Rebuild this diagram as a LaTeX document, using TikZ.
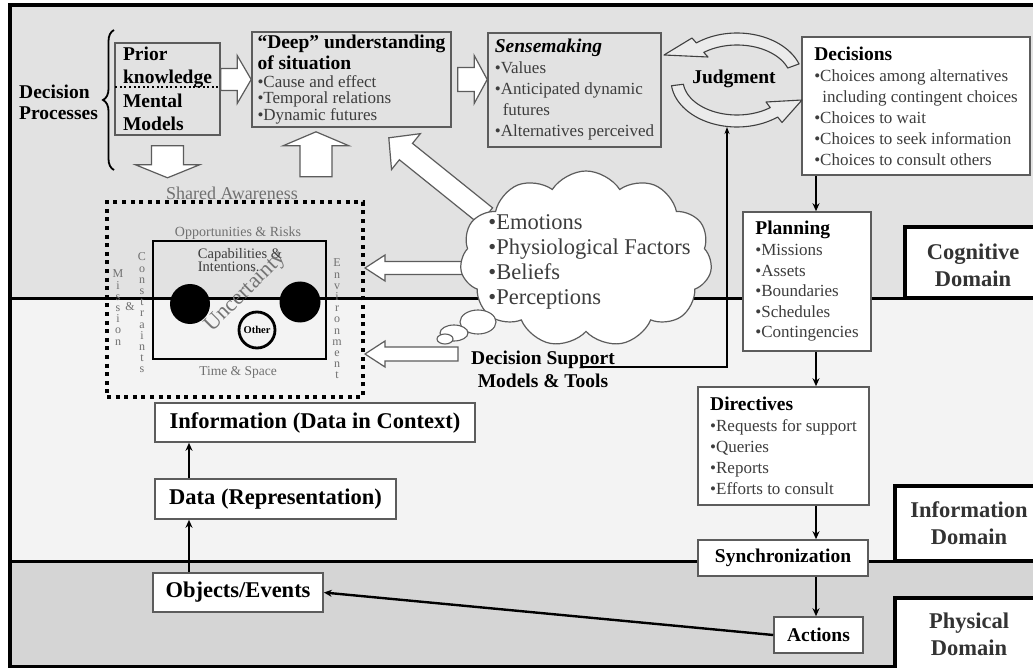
\documentclass[tikz,border=0pt]{standalone}
\usepackage{fontspec}
\setmainfont{Liberation Serif}
\usetikzlibrary{shapes.symbols,arrows.meta,calc,decorations.pathreplacing}

\definecolor{cogbg}{HTML}{E2E2E2}
\definecolor{infobg}{HTML}{F3F3F3}
\definecolor{physbg}{HTML}{D5D5D5}
\definecolor{boxline}{HTML}{5C5C5C}
\definecolor{bodytext}{HTML}{3D3D3D}
\definecolor{softtext}{HTML}{707070}

\newcommand\fs[2]{\fontsize{#1}{#2}\selectfont}
\newcommand\hd[1]{{\color{black}\bfseries\fs{19.5}{20}#1}}
\newcommand\bl{\textbullet}
\newcommand\ind{\hspace*{8pt}}

% hollow block arrow: #1 tail, #2 tip, #3 shaft half width, #4 head half width, #5 head length
\newcommand\blockarrow[5]{%
  \coordinate (bahead) at ($(#2)!#5!(#1)$);
  \path[blockarr]
    ($(#1)!#3!90:(#2)$) -- ($(bahead)!#3!90:(#2)$) -- ($(bahead)!#4!90:(#2)$)
    -- (#2) -- ($(bahead)!#4!-90:(#2)$) -- ($(bahead)!#3!-90:(#2)$)
    -- ($(#1)!#3!-90:(#2)$) -- cycle;}

\begin{document}
\begin{tikzpicture}[x=1pt,y=-1pt,
  box/.style={draw=boxline, line width=1.6pt, inner sep=0pt, align=left},
  wbox/.style={box, fill=white},
  conn/.style={line width=2.4pt, -{Stealth[length=8pt,width=7pt]}},
  fineconn/.style={line width=1.2pt, -{Stealth[length=7pt,width=5pt]}},
  blockarr/.style={draw=boxline, fill=white, line width=1.2pt, line join=miter},
  domline/.style={line width=3pt},
  domainbox/.style={draw=black, line width=4pt, fill=white},
  domlabel/.style={font=\bfseries\fs{22.5}{27}, text=black!80, align=center, inner sep=0pt},
  stack/.style={align=center, font=\fs{12}{11.2}, text=softtext, inner sep=0pt},
  soft/.style={text=softtext, inner sep=0pt},
  bubble/.style={draw=boxline, fill=white, line width=1.1pt},
  jarrow/.style={draw=black!75, fill=white!92!black, line width=1.1pt, line join=round},
]
\useasboundingbox (0,0) rectangle (1033,668);
\clip (0,0) rectangle (1033,668);

% domain bands and frame
\fill[white] (0,0) rectangle (1033,668);
\fill[cogbg] (10,5) rectangle (1040,298);
\fill[infobg] (10,298) rectangle (1040,561);
\fill[physbg] (10,561) rectangle (1040,670);
\draw[line width=4pt] (10,5) rectangle (1040,667);
\draw[domline] (10,298) -- (1040,298);
\draw[domline] (10,561) -- (1040,561);

% decision processes
\node[anchor=west, align=left, font=\bfseries\fs{19.5}{21}, inner sep=0pt] (dproc) at (19,102.5) {Decision\\Processes};
\draw[decorate, decoration={brace, amplitude=11pt}, line width=1.8pt] (114,170) -- (114,30);

\node[box, minimum width=105pt, minimum height=92pt, font=\bfseries\fs{19.5}{23.5}] (prior) at (167.5,89) {Prior\\knowledge\\Mental\\Models};
\draw[line width=2pt, dash pattern=on 2pt off 2.6pt] ($(prior.west)+(1,-2)$) -- ($(prior.east)+(-1,-2)$);

\node[box, minimum width=199pt, minimum height=95pt, font=\fs{17}{16.5}, text=bodytext] (deep) at (351.5,79.5)
  {\hd{``Deep'' understanding}\\[1.2pt]\hd{of situation}\\[1.5pt]\bl Cause and effect\\\bl Temporal relations\\\bl Dynamic futures};

\node[box, minimum width=173pt, minimum height=114pt, font=\fs{17}{21}, text=bodytext] (sense) at (574.5,90)
  {\hd{\itshape Sensemaking}\\\bl Values\\\bl Anticipated dynamic\\\ind futures\\\bl Alternatives perceived};

\node[wbox, minimum width=228pt, minimum height=138pt, font=\fs{17}{21}, text=bodytext] (decis) at (916,106)
  {\hd{Decisions}\\\bl Choices among alternatives\\\ind including contingent choices\\\bl Choices to wait\\\bl Choices to seek information\\\bl Choices to consult others};

% judgment cycle
\path[jarrow]
  plot[domain=-20:-128, samples=40] ({737+66*cos(\x)}, {80+47*sin(\x)})
  -- (692,38) -- (664,55) -- (708,57)
  -- plot[domain=-128:-20, samples=40] ({737+54*cos(\x)}, {80+35*sin(\x)}) -- cycle;
\path[jarrow]
  plot[domain=173:52, samples=40] ({737+66*cos(\x)}, {80+47*sin(\x)})
  -- (782,122.5) -- (802,100) -- (766,102)
  -- plot[domain=52:173, samples=40] ({737+54*cos(\x)}, {80+35*sin(\x)}) -- cycle;
\node[font=\bfseries\fs{19.5}{22}, inner sep=0pt] (judg) at (734,79) {Judgment};
\coordinate (jbot) at (727,127);

% shared awareness picture
\node[soft, font=\fs{18}{20}] (shared) at (232,193) {Shared Awareness};
\node[draw, line width=4pt, dash pattern=on 4pt off 4.6pt, minimum width=256pt, minimum height=195pt, inner sep=0pt] (aware) at (235,299.5) {};
\node[draw=black, line width=1.5pt, minimum width=173pt, minimum height=118pt, inner sep=0pt] (sit) at (239.5,300) {};
\node[soft, font=\fs{14}{16}] (opps) at (238,233) {Opportunities \& Risks};
\node[soft, font=\fs{13.5}{16}] (tsp) at (238,372) {Time \& Space};
\node[font=\fs{14.5}{13}, text=bodytext, align=left, inner sep=0pt] (capint) at (240,260.5) {Capabilities \&\\Intentions.};
\node[circle, fill=black, minimum size=40pt, inner sep=0pt] (own) at (190,304) {};
\node[circle, fill=black, minimum size=41pt, inner sep=0pt] (adv) at (300,302) {};
\node[circle, draw=black, line width=2.8pt, minimum size=36pt, inner sep=0pt, font=\bfseries\fs{10.5}{12}] (other) at (257,330) {Other};
\node[rotate=45, font=\fs{22}{24}, text=black!55, inner sep=0pt] (unc) at (246,292) {Uncertainty};
\node[stack] (mis) at (118,307.5) {M\\i\\s\\s\\i\\o\\n};
\node[stack] (amp) at (130,307) {\&};
\node[stack] (cons) at (142,313) {C\\o\\n\\s\\t\\r\\a\\i\\n\\t\\s};
\node[stack] (env) at (337,319) {E\\n\\v\\i\\r\\o\\n\\m\\e\\n\\t};

% block arrows
\coordinate (a1s) at (prior.east |- deep.west);
\blockarrow{a1s}{deep.west}{11pt}{24pt}{14pt}
\coordinate (a2s) at ($(deep.east)+(6,0)$);
\coordinate (a2e) at (sense.west |- deep.east);
\blockarrow{a2s}{a2e}{12pt}{24pt}{13pt}
\coordinate (a3s) at ($(prior.south)+(0,10)$);
\coordinate (a3e) at ($(prior.south)+(0,42)$);
\blockarrow{a3s}{a3e}{16pt}{32pt}{13pt}
\coordinate (a4s) at ($(deep.south)+(-35.5,49)$);
\coordinate (a4e) at ($(deep.south)+(-35.5,4)$);
\blockarrow{a4s}{a4e}{16pt}{33pt}{14pt}
\coordinate (a5s) at (486,216);
\coordinate (a5e) at ($(deep.south east)+(-63,10)$);
\blockarrow{a5s}{a5e}{10.5pt}{23pt}{22pt}
\coordinate (a6s) at (466,268);
\coordinate (a6e) at (aware.east |- a6s);
\blockarrow{a6s}{a6e}{6.5pt}{13pt}{20pt}
\coordinate (a7s) at (458,354);
\coordinate (a7e) at (aware.east |- a7s);
\blockarrow{a7s}{a7e}{7pt}{13pt}{20pt}

% influences cloud
\node[cloud, cloud puffs=11, cloud puff arc=115, aspect=1.45, draw=boxline, fill=white, line width=1.2pt, minimum width=252pt, minimum height=176pt, inner sep=0pt] (cloud) at (586,259) {};
\draw[bubble] (478,322) ellipse[x radius=18, y radius=12];
\draw[bubble] (454,333) ellipse[x radius=14, y radius=8];
\draw[bubble] (445,339) ellipse[x radius=8, y radius=5];
\node[font=\fs{22.5}{25}, text=bodytext, align=left, inner sep=0pt] (feel) at (589.5,261.5)
  {\bl Emotions\\\bl Physiological Factors\\\bl Beliefs\\\bl Perceptions};

% decision support
\coordinate (dsrun) at (583,367);
\draw[fineconn] (dsrun) -| (jbot);
\node[font=\bfseries\fs{19.5}{23}, align=center, inner sep=0pt] (dsup) at (543,369) {Decision Support\\Models \& Tools};

% command chain
\node[wbox, minimum width=128pt, minimum height=139pt, font=\fs{17}{20.6}, text=bodytext] (plan) at (807,281.5)
  {\hd{Planning}\\\bl Missions\\\bl Assets\\\bl Boundaries\\\bl Schedules\\\bl Contingencies};
\node[wbox, minimum width=171pt, minimum height=118pt, font=\fs{17}{21}, text=bodytext] (direct) at (783.5,446)
  {\hd{Directives}\\\bl Requests for support\\\bl Queries\\\bl Reports\\\bl Efforts to consult};
\node[wbox, minimum width=170pt, minimum height=36pt, font=\bfseries\fs{19.5}{22}, align=center] (sync) at (783,558) {Synchronization};
\node[wbox, minimum width=89pt, minimum height=36pt, font=\bfseries\fs{19.5}{22}, align=center] (actions) at (818.5,635) {Actions};

% information chain
\node[wbox, minimum width=170pt, minimum height=39pt, font=\bfseries\fs{22.5}{25}, align=center] (objects) at (238,592.5) {Objects/Events};
\node[wbox, minimum width=241pt, minimum height=40pt, font=\bfseries\fs{22.5}{25}, align=center] (data) at (275.5,499) {Data (Representation)};
\node[wbox, minimum width=320pt, minimum height=39pt, font=\bfseries\fs{22.5}{25}, align=center] (info) at (315,422.5) {Information (Data in Context)};

\coordinate (spine) at (816,0);
\draw[conn] (spine |- decis.south) -- (spine |- plan.north);
\draw[conn] (spine |- plan.south) -- (spine |- direct.north);
\draw[conn] (spine |- direct.south) -- (spine |- sync.north);
\draw[conn] (spine |- sync.south) -- (spine |- actions.north);
\draw[conn] (actions.west) -- (objects.east);
\coordinate (lspine) at (189,0);
\draw[conn] (lspine |- objects.north) -- (lspine |- data.south);
\draw[conn] (lspine |- data.north) -- (lspine |- info.south);

% domain labels
\draw[domainbox] (905,227) rectangle (1045,298);
\node[domlabel] (cogdom) at (973,265.5) {Cognitive\\Domain};
\draw[domainbox] (895,486) rectangle (1045,561);
\node[domlabel] (infodom) at (969,523) {Information\\Domain};
\draw[domainbox] (895,598) rectangle (1045,672);
\node[domlabel] (physdom) at (969,634.5) {Physical\\Domain};
\end{tikzpicture}
\end{document}
